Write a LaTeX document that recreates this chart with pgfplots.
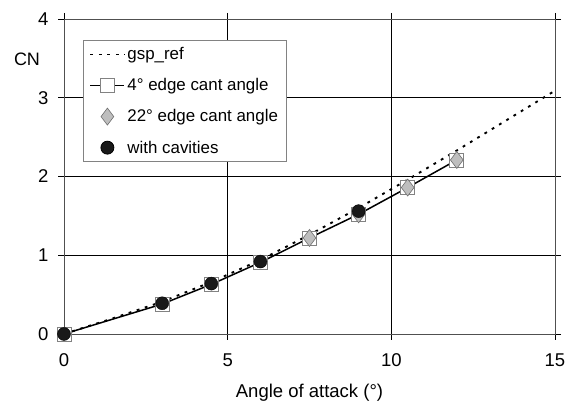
\documentclass[border=0pt]{standalone}
\usepackage{fontspec}
\setmainfont{Liberation Sans}
\usepackage{pgfplots}
\pgfplotsset{compat=1.18}
\definecolor{sqgray}{RGB}{130,130,130}
\definecolor{dmfill}{RGB}{190,190,190}
\definecolor{dmedge}{RGB}{110,110,110}
\definecolor{frame}{RGB}{80,80,80}
\pgfplotsset{
  lineleg/.style={legend image code/.code={\draw[##1] (0cm,0cm) -- (1.2cm,0cm);}},
  linemarkleg/.style={legend image code/.code={
    \draw[##1, mark=none] (0cm,0cm) -- (1.2cm,0cm);
    \draw[##1, only marks] plot coordinates {(0.6cm,0cm)};}},
  markleg/.style={legend image code/.code={\draw[##1] plot coordinates {(0.6cm,0cm)};}},
}
\begin{document}
\begin{tikzpicture}
\begin{axis}[
  at={(0,0)}, anchor=south west,
  scale only axis,
  width=491pt, height=315pt,
  xmin=0, xmax=15, ymin=0, ymax=4,
  xtick={0,5,10,15}, ytick={0,1,2,3,4},
  grid=major,
  major grid style={black, line width=0.8pt},
  axis line style={frame, line width=0.8pt},
  tick align=outside,
  major tick length=6pt,
  tick style={black, line width=0.8pt},
  every tick label/.append style={font=\fontsize{18.5}{20}\selectfont},
  /pgf/number format/assume math mode=true,
  xticklabel style={yshift=-10pt},
  yticklabel style={xshift=-6pt},
  xlabel={Angle of attack (°)},
  xlabel style={font=\fontsize{18.5}{20}\selectfont, at={(axis description cs:0.5,0)}, anchor=base, yshift=-64pt},
  legend style={at={(axis cs:0.58,3.73)}, anchor=north west, draw=sqgray, line width=0.8pt,
    font=\fontsize{16.9}{18}\selectfont, row sep=13.3pt, inner xsep=6pt, inner ysep=5pt},
  legend cell align=left,
  clip=false,
]
\addplot[black, line width=1.9pt, dash pattern=on 2.8pt off 5.7pt, mark=none, lineleg] coordinates {
(0,0) (1.5,0.2) (3,0.41) (4.5,0.66) (6,0.94) (7.5,1.26) (9,1.6) (10.5,1.96) (12,2.33) (13.5,2.71) (15,3.09)
};
\addlegendentry{gsp\_ref}
\addplot[black, line width=1.5pt, mark=square*, mark size=7pt,
  mark options={solid, fill=white, draw=sqgray, line width=0.8pt}, linemarkleg] coordinates {
(0,0) (3,0.38) (4.5,0.63) (6,0.91) (7.5,1.22) (9,1.52) (10.5,1.86) (12,2.21)
};
\addlegendentry{4° edge cant angle}
\addplot[only marks, mark=diamond*, mark size=8.5pt,
  mark options={fill=dmfill, draw=dmedge, line width=0.6pt}, markleg] coordinates {
(7.5,1.22) (9,1.52) (10.5,1.86) (12,2.21)
};
\addlegendentry{22° edge cant angle}
\addplot[only marks, mark=*, mark size=6.5pt,
  mark options={fill=black!90, draw=black}, markleg] coordinates {
(0,0) (3,0.39) (4.5,0.64) (6,0.92) (9,1.56)
};
\addlegendentry{with cavities}
\node[font=\fontsize{18}{20}\selectfont, anchor=center] at ([xshift=-37pt]rel axis cs:0,0.871) {CN};
\end{axis}
\pgfresetboundingbox
\path[use as bounding box] (-64pt,-69pt) rectangle (507pt,334pt);
\end{tikzpicture}
\end{document}
